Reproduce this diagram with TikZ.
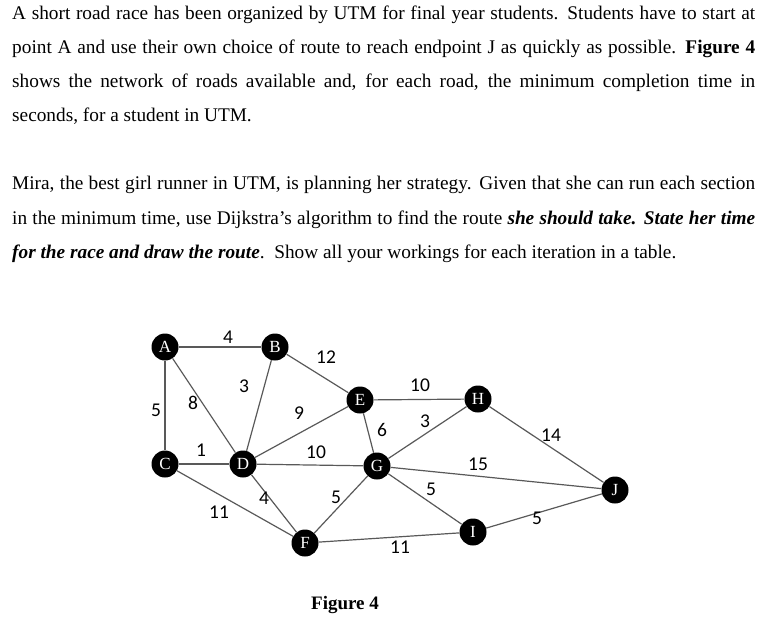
\documentclass[tikz,border=0pt]{standalone}
\usepackage{fontspec}
\setmainfont{Liberation Serif}
\newfontfamily\numfont{Carlito}
\usetikzlibrary{positioning}

\newcommand{\fullline}[1]{\makebox[743pt][s]{#1}}

\begin{document}
\begin{tikzpicture}[x=1pt, y=-1pt,
    vert/.style={circle, fill=black, inner sep=0pt, minimum size=27pt,
                 text=white, font=\fontsize{17}{17}\selectfont},
    road/.style={draw=gray!70!black, line width=1.2pt},
    wt/.style={font=\numfont\fontsize{19.5}{19.5}\selectfont},
    para/.style={anchor=base west, inner sep=0pt, font=\fontsize{19.3}{20}\selectfont}]

    \useasboundingbox (0,0) rectangle (767,644);

    % Text
    \node[para] (t1) at (12,20) {\fullline{A short road race has been organized by UTM for final year students. Students have to start at}};
    \node[para] (t2) at (12,54) {\fullline{point A and use their own choice of route to reach endpoint J as quickly as possible. \textbf{Figure 4}}};
    \node[para] (t3) at (12,88) {\fullline{shows the network of roads available and, for each road, the minimum completion time in}};
    \node[para] (t4) at (12,122) {seconds, for a student in UTM.};
    \node[para] (t5) at (12,190) {\fullline{Mira, the best girl runner in UTM, is planning her strategy. Given that she can run each section}};
    \node[para] (t6) at (12,224) {\fullline{in the minimum time, use Dijkstra's algorithm to find the route \textbf{\textit{she should take. State her time}}}};
    \node[para] (t7) at (12,258) {\textbf{\textit{for the race and draw the route}}.\ \ Show all your workings for each iteration in a table.};

    % Vertices
    \node[vert] (A) at (165,347) {A};
    \node[vert] (B) at (275,347) {B};
    \node[vert] (E) at (360,400) {E};
    \node[vert] (H) at (478,399) {H};
    \node[vert] (C) at (165,464) {C};
    \node[vert] (D) at (243,464) {D};
    \node[vert] (G) at (377,466) {G};
    \node[vert] (J) at (615,490) {J};
    \node[vert] (I) at (473,532) {I};
    \node[vert] (F) at (305,543) {F};

    % Roads
    \foreach \u/\v in {A/B, A/C, A/D, B/D, B/E, C/D, C/F, D/E, D/G, D/F,
                       E/H, E/G, G/H, G/J, G/I, F/G, F/I, H/J, I/J}
        \path[road] (\u) -- (\v);

    % Weights
    \node[wt] (w1) at (228,337) {4};
    \node[wt] (w2) at (326,357) {12};
    \node[wt] (w3) at (244,386) {3};
    \node[wt] (w4) at (193,403) {8};
    \node[wt] (w5) at (156,410) {5};
    \node[wt] (w6) at (299,413) {9};
    \node[wt] (w7) at (420,385) {10};
    \node[wt] (w8) at (382,430) {6};
    \node[wt] (w9) at (425,421) {3};
    \node[wt] (w10) at (551,435) {14};
    \node[wt] (w11) at (201,450) {1};
    \node[wt] (w12) at (316,452) {10};
    \node[wt] (w13) at (478,464) {15};
    \node[wt] (w14) at (264,498) {4};
    \node[wt] (w15) at (336,497) {5};
    \node[wt] (w16) at (431,489) {5};
    \node[wt] (w17) at (219,512) {11};
    \node[wt] (w18) at (537,518) {5};
    \node[wt] (w19) at (400,547) {11};

    % Caption
    \node[font=\fontsize{19}{20}\selectfont\bfseries] (cap) at (345,605) {Figure 4};
\end{tikzpicture}
\end{document}
